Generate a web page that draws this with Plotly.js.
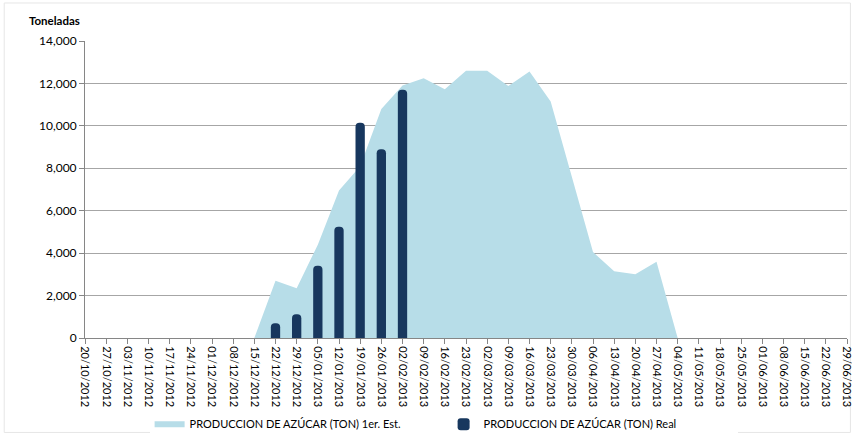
<!DOCTYPE html>
<html>
<head>
<meta charset="utf-8">
<script src="https://cdn.plot.ly/plotly-3.0.1.min.js"></script>
<style>
  html, body { margin: 0; padding: 0; background: #ffffff; }
  #chart { width: 852px; height: 435px; }
</style>
</head>
<body>
<div id="chart"></div>
<script>
var weeks = [
  "20/10/2012","27/10/2012","03/11/2012","10/11/2012","17/11/2012","24/11/2012",
  "01/12/2012","08/12/2012","15/12/2012","22/12/2012","29/12/2012","05/01/2013",
  "12/01/2013","19/01/2013","26/01/2013","02/02/2013","09/02/2013","16/02/2013",
  "23/02/2013","02/03/2013","09/03/2013","16/03/2013","23/03/2013","30/03/2013",
  "06/04/2013","13/04/2013","20/04/2013","27/04/2013","04/05/2013","11/05/2013",
  "18/05/2013","25/05/2013","01/06/2013","08/06/2013","15/06/2013","22/06/2013",
  "29/06/2013"
];
var estimate = [
  0, 0, 0, 0, 0, 0,
  0, 0, 0, 2700, 2350, 4400,
  6950, 8100, 10800, 11900, 12250, 11730,
  12600, 12600, 11880, 12560, 11150, 7600,
  4050, 3150, 3000, 3600, 0, 0,
  0, 0, 0, 0, 0, 0,
  0
];
var real = [
  null, null, null, null, null, null,
  null, null, null, 700, 1120, 3400,
  5250, 10150, 8900, 11700, null, null,
  null, null, null, null, null, null,
  null, null, null, null, null, null,
  null, null, null, null, null, null,
  null
];
var estName = "PRODUCCION DE AZÚCAR (TON) 1er. Est.";
var realName = "PRODUCCION DE AZÚCAR (TON) Real";
var yTitle = "Toneladas";

var FONT = "Lato, 'Open Sans', sans-serif";

var traces = [
  {
    type: "scatter",
    x: weeks,
    y: estimate,
    name: estName,
    mode: "none",
    fill: "tozeroy",
    fillcolor: "#b7dde8",
    xaxis: "x",
    yaxis: "y",
    hoverinfo: "x+y"
  },
  {
    type: "bar",
    x: weeks,
    y: real,
    name: realName,
    width: 0.44,
    marker: { color: "#17375e", cornerradius: 5, line: { width: 0 } },
    xaxis: "x2",
    yaxis: "y2"
  }
];

var xCommon = {
  type: "category",
  range: [0, weeks.length - 1],
  categoryorder: "array",
  categoryarray: weeks
};

var layout = {
  width: 852,
  height: 435,
  margin: { l: 85, r: 5, t: 41, b: 97, autoexpand: false },
  paper_bgcolor: "#ffffff",
  plot_bgcolor: "#ffffff",
  font: { family: FONT, size: 11, color: "#000000" },
  showlegend: true,
  legend: {
    orientation: "h",
    xref: "container",
    yref: "container",
    x: 0.1756,
    xanchor: "left",
    y: 0.025,
    yanchor: "middle",
    font: { family: FONT, size: 11, color: "#000000" },
    traceorder: "normal",
    entrywidth: 249,
    itemwidth: 30
  },
  xaxis: Object.assign({}, xCommon, {
    showgrid: false,
    showline: true,
    linecolor: "#868686",
    linewidth: 1,
    ticks: "outside",
    ticklen: 5,
    tickcolor: "#868686",
    tickangle: 90,
    tickfont: { family: FONT, size: 11, color: "#000000" },
    zeroline: false,
    fixedrange: true
  }),
  xaxis2: Object.assign({}, xCommon, {
    overlaying: "x",
    visible: false,
    fixedrange: true
  }),
  yaxis: {
    range: [0, 14000],
    tickvals: [0, 2000, 4000, 6000, 8000, 10000, 12000, 14000],
    tickformat: ",",
    showgrid: true,
    gridcolor: "#a6a6a6",
    gridwidth: 1,
    showline: true,
    linecolor: "#868686",
    ticks: "outside",
    ticklen: 5,
    tickcolor: "#868686",
    tickfont: { family: FONT, size: 12, color: "#000000" },
    zeroline: false,
    fixedrange: true
  },
  yaxis2: {
    range: [0, 14000],
    overlaying: "y",
    visible: false,
    fixedrange: true
  },
  annotations: [
    {
      text: "<b>" + yTitle + "</b>",
      xref: "paper", yref: "paper",
      x: -0.076, y: 1.07,
      xanchor: "left", yanchor: "middle",
      showarrow: false,
      font: { family: FONT, size: 11.5, color: "#000000" }
    }
  ],
  shapes: [
    {
      type: "rect",
      xref: "paper", yref: "paper",
      x0: -0.106, x1: 1.0045, y0: -0.318, y1: 1.128,
      line: { color: "#e6e6e6", width: 1 },
      fillcolor: "rgba(0,0,0,0)",
      layer: "below"
    }
  ]
};

Plotly.newPlot("chart", traces, layout, { displayModeBar: false, staticPlot: true });
</script>
</body>
</html>
